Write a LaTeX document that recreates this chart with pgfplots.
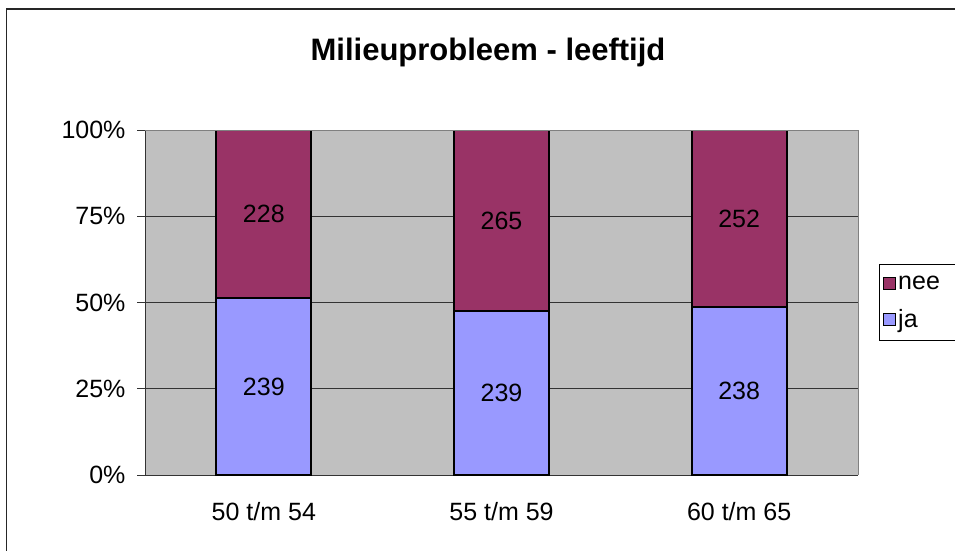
\documentclass[border=0pt]{standalone}
\usepackage{fontspec}
\setmainfont{Liberation Sans}
\usepackage{pgfplots}
\usepackage{pgfplotstable}
\pgfplotsset{compat=1.18}
\definecolor{jaC}{HTML}{9999FF}
\definecolor{neeC}{HTML}{993366}
\definecolor{bgC}{HTML}{C0C0C0}
\pgfplotstableread{
x pct n
0 51.18 239
1 47.42 239
2 48.57 238
}\jatab
\pgfplotstableread{
x pct n
0 48.82 228
1 52.58 265
2 51.43 252
}\neetab
\begin{document}
\begin{tikzpicture}[x=1pt,y=1pt,font=\fontsize{25}{29}\selectfont]
\useasboundingbox (0,0) rectangle (955,550);
\fill[white] (0,0) rectangle (955,550);
\draw[line width=1.5pt, color=black!85] (6.5,-5) -- (6.5,541) -- (960,541);
\node[font=\fontsize{31}{36}\selectfont\bfseries, anchor=base] at (488,489) {Milieuprobleem - leeftijd};
\begin{axis}[
  at={(145pt,75pt)}, anchor=south west,
  scale only axis, width=713pt, height=345pt,
  ybar stacked, bar width=95pt,
  xmin=-0.5, xmax=2.5, ymin=0, ymax=100,
  axis lines=left, axis line style={-, draw=black!80, line width=1pt},
  axis background/.style={fill=bgC},
  xtick={0,1,2}, xticklabels={50 t/m 54, 55 t/m 59, 60 t/m 65},
  major x tick style={draw=none},
  extra x ticks={-0.5,0.5,1.5,2.5}, extra x tick labels={},
  extra x tick style={major tick length=9pt, tick style={draw=black!80, line width=1pt}},
  ytick={0,25,50,75,100}, yticklabels={0\%,25\%,50\%,75\%,100\%},
  tick align=outside, major tick length=8pt,
  ytick style={draw=black!80, line width=1pt},
  ymajorgrids, grid style={draw=black!80, line width=1pt},
  /pgf/number format/assume math mode=true,
  xticklabel style={yshift=-16pt},
  yticklabel style={xshift=-8pt},
  reverse legend,
  legend style={at={(1,0.5)}, anchor=west, xshift=21pt, draw=black, fill=white, line width=0.8pt,
    inner xsep=4pt, inner ysep=10pt, row sep=14pt, font=\fontsize{25}{29}\selectfont,
    nodes={text width=70pt, align=left}},
  point meta=explicit symbolic,
  nodes near coords,
  every node near coord/.append style={anchor=center, font=\fontsize{25}{29}\selectfont, text=black},
  after end axis/.code={\draw[draw=gray, line width=1pt] (rel axis cs:0,1) -- (rel axis cs:1,1) -- (rel axis cs:1,0);},
]
\addplot[fill=jaC, draw=black, line width=2pt,
  legend image code/.code={\draw[fill=jaC,draw=black,line width=0.8pt] (0pt,-6pt) rectangle (12pt,6pt);}]
  table[x=x, y=pct, meta=n] {\jatab};
\addlegendentry{ja}
\addplot[fill=neeC, draw=black, line width=2pt,
  legend image code/.code={\draw[fill=neeC,draw=black,line width=0.8pt] (0pt,-6pt) rectangle (12pt,6pt);}]
  table[x=x, y=pct, meta=n] {\neetab};
\addlegendentry{nee}
\end{axis}
\end{tikzpicture}
\end{document}
